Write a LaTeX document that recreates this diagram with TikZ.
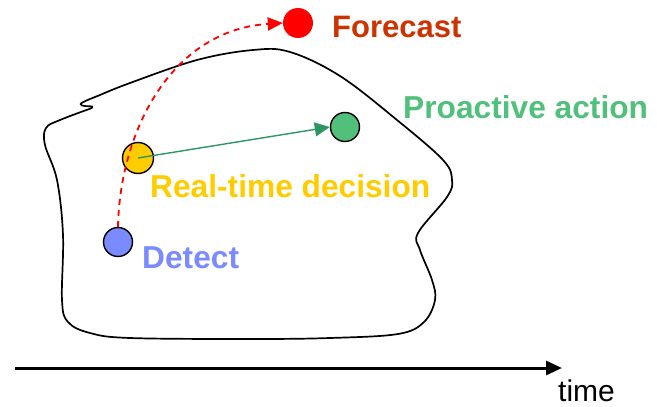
\documentclass[tikz,border=0pt]{standalone}
\usepackage{fontspec}
\setmainfont{Liberation Sans}
\usetikzlibrary{arrows.meta}

\definecolor{fcred}{RGB}{255,0,0}
\definecolor{fctext}{RGB}{204,51,0}
\definecolor{pagreen}{RGB}{80,192,122}
\definecolor{arrgreen}{RGB}{46,150,100}
\definecolor{rtyellow}{RGB}{255,204,0}
\definecolor{detblue}{RGB}{122,139,255}

\tikzset{
  dot/.style={circle, draw=black, line width=1.4pt, inner sep=0pt, minimum size=#1},
  lbl/.style={anchor=base west, inner sep=0pt, font=\fontsize{31.7}{36}\selectfont\bfseries},
  blob/.style={line width=1.7pt, line join=round},
}

\begin{document}
\begin{tikzpicture}[x=1pt, y=-1pt]
  \useasboundingbox (0,0) rectangle (657,407);

  % irregular region
  \draw[blob] plot[smooth, tension=0.6] coordinates {
    (92,108) (60,120) (46,128) (45,145) (57,180) (63,235) (62,300) (68,322)
    (90,333) (130,338) (250,339) (330,338) (398,334) (424,322) (435,300)
    (432,280) (420,250) (418,233) (447,197) (452,180) (443,160) (397,120)
    (340,76) (290,52) (253,50) (197,60) (130,83) (100,95)}
    .. controls (85,101) and (77,104) .. (82,105.5)
    .. controls (86,107) and (95,105) .. (92,108);

  % events
  \node[circle, fill=fcred, inner sep=0pt, minimum size=30pt] (fc) at (298,23) {};
  \node[dot=29pt, fill=pagreen] (pa) at (345,127) {};
  \node[dot=31pt, fill=rtyellow] (rt) at (138,158) {};
  \node[dot=29pt, fill=detblue] (det) at (118,242) {};

  % labels
  \node[lbl, text=fctext, font=\fontsize{31}{36}\selectfont\bfseries] (fclbl) at (332,37) {Forecast};
  \node[lbl, text=pagreen] (palbl) at (403,118) {Proactive action};
  \node[lbl, text=rtyellow] (rtlbl) at (150,197) {Real-time decision};
  \node[lbl, text=detblue] (detlbl) at (142,268) {Detect};

  % connectors
  \draw[arrgreen, line width=1.4pt, -{Triangle[length=15pt, width=14pt]}]
    (rt.center) -- (pa.west);
  \draw[fcred, line width=1.8pt, dash pattern=on 6pt off 5pt,
        -{Triangle[length=15pt, width=13pt]}]
    (det.north) .. controls (120,130) and (172,30) .. (fc.west);

  % time axis
  \coordinate (t0) at (15,368);
  \coordinate (t1) at (562,368);
  \draw[line width=3pt, -{Triangle[length=16pt, width=14pt]}] (t0) -- (t1);
  \node[anchor=base west, inner sep=0pt, font=\fontsize{30}{36}\selectfont] (tlbl) at (558,401) {time};
\end{tikzpicture}
\end{document}
